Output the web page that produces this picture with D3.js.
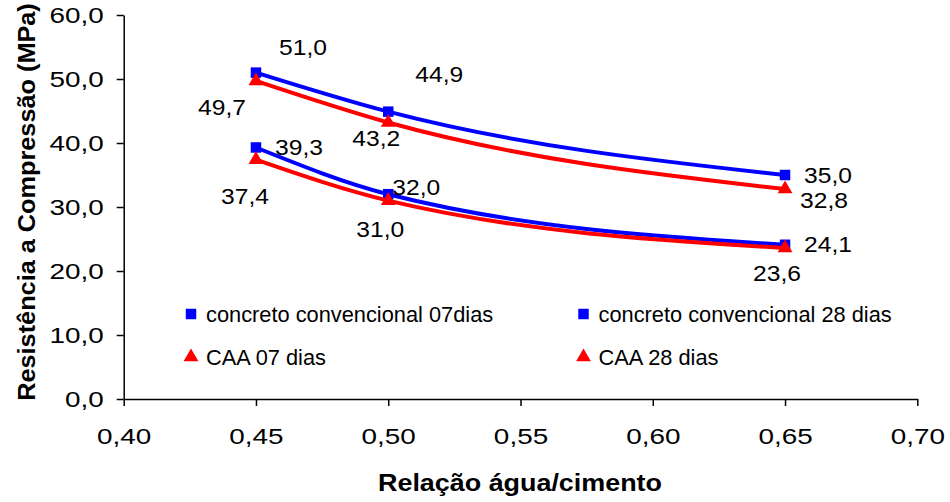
<!DOCTYPE html>
<html>
<head>
<meta charset="utf-8">
<script src="https://cdn.jsdelivr.net/npm/d3@7"></script>
<style>
  body { margin: 0; background: #fff; }
  text { font-family: Arial, "Liberation Sans", sans-serif; fill: #000; }
</style>
</head>
<body>
<svg id="chart" width="950" height="502"></svg>
<script>
// values
const ratios = [0.45, 0.50, 0.65];
const convencional07 = [39.3, 32.0, 24.1];
const convencional28 = [51.0, 44.9, 35.0];
const caa07 = [37.4, 31.0, 23.6];
const caa28 = [49.7, 43.2, 32.8];
const seriesNames = ["concreto convencional 07dias", "concreto convencional 28 dias", "CAA 07 dias", "CAA 28 dias"];
const xTicks = [0.40, 0.45, 0.50, 0.55, 0.60, 0.65, 0.70];
const yTicks = [0, 10, 20, 30, 40, 50, 60];

const series = [
  { name: seriesNames[0], values: convencional07, color: "#0000ff", shape: "square" },
  { name: seriesNames[1], values: convencional28, color: "#0000ff", shape: "square" },
  { name: seriesNames[2], values: caa07, color: "#ff0000", shape: "triangle" },
  { name: seriesNames[3], values: caa28, color: "#ff0000", shape: "triangle" }
];

// where each value label sits relative to its point
const labelOffsets = [
  [[43, 0], [28, -7], [43, 0]],
  [[47, -25], [51, -37], [43, 0]],
  [[-11, 37], [-8, 29], [-8, 26]],
  [[-34, 27], [-12, 16], [39, 11]]
];

const svg = d3.select("#chart");
const x = d3.scaleLinear().domain([0.40, 0.70]).range([123.7, 917.3]);
const y = d3.scaleLinear().domain([0, 60]).range([399, 15]);

const comma = f => v => d3.format(f)(v).replace(".", ",");

// stretch text horizontally, the original has wide lettering
function stretch(sel, sx) {
  sel.each(function () {
    let t = d3.select(this);
    let tx = +t.attr("x") || 0, ty = +t.attr("y") || 0;
    t.attr("x", 0).attr("y", 0)
      .attr("transform", "translate(" + tx + "," + ty + ") scale(" + sx + ",1)");
  });
}

// axes
let yAxis = svg.append("g")
  .attr("transform", "translate(" + x(0.40) + ",0)")
  .call(d3.axisLeft(y).tickValues(yTicks).tickFormat(comma(".1f")).tickSize(7).tickPadding(13).tickSizeOuter(0));
let xAxis = svg.append("g")
  .attr("transform", "translate(0," + y(0) + ")")
  .call(d3.axisBottom(x).tickValues(xTicks).tickFormat(comma(".2f")).tickSize(7).tickPadding(22).tickSizeOuter(0));

[yAxis, xAxis].forEach(a => {
  a.select(".domain").attr("stroke", "#000").attr("stroke-width", 1.5);
  a.selectAll(".tick line").attr("stroke", "#000").attr("stroke-width", 1.5);
  a.selectAll(".tick text").attr("font-size", 22.5).attr("font-family", "Arial, 'Liberation Sans', sans-serif");
  stretch(a.selectAll(".tick text"), 1.24);
});

// axis titles
svg.append("text")
  .attr("text-anchor", "middle")
  .attr("font-size", 23).attr("font-weight", "bold")
  .attr("transform", "translate(520,491) scale(1.17,1)")
  .text("Relação água/cimento");
svg.append("text")
  .attr("text-anchor", "middle")
  .attr("font-size", 23).attr("font-weight", "bold")
  .attr("transform", "translate(35,202) rotate(-90) scale(1.1,1)")
  .text("Resistência a Compressão (MPa)");

// lines
const line = d3.line()
  .x((d, i) => x(ratios[i]))
  .y(d => y(d))
  .curve(d3.curveMonotoneX);

const symSquare = d3.symbol().type(d3.symbolSquare).size(110);
const symTriangle = d3.symbol().type(d3.symbolTriangle).size(95);

series.forEach(s => {
  svg.append("path")
    .attr("d", line(s.values))
    .attr("fill", "none")
    .attr("stroke", s.color)
    .attr("stroke-width", 4);
  svg.selectAll(null)
    .data(s.values)
    .enter().append("path")
    .attr("d", s.shape === "square" ? symSquare : symTriangle)
    .attr("transform", (d, i) => "translate(" + x(ratios[i]) + "," + y(d) + ")")
    .attr("fill", s.color);
});

// value labels
series.forEach((s, si) => {
  svg.selectAll(null)
    .data(s.values)
    .enter().append("text")
    .attr("text-anchor", "middle")
    .attr("dominant-baseline", "central")
    .attr("font-size", 22)
    .attr("transform", (d, i) => "translate(" + (x(ratios[i]) + labelOffsets[si][i][0]) + "," +
      (y(d) + labelOffsets[si][i][1]) + ") scale(1.12,1)")
    .text(d => comma(".1f")(d));
});

// legend
const legendPos = [[191, 314], [583.5, 314], [191, 357], [583.5, 357]];
series.forEach((s, i) => {
  let g = svg.append("g").attr("transform", "translate(" + legendPos[i][0] + "," + legendPos[i][1] + ")");
  g.append("path")
    .attr("d", s.shape === "square" ? symSquare : symTriangle)
    .attr("fill", s.color);
  g.append("text")
    .attr("x", 15)
    .attr("dominant-baseline", "central")
    .attr("font-size", 21.8)
    .text(s.name);
});
</script>
</body>
</html>
